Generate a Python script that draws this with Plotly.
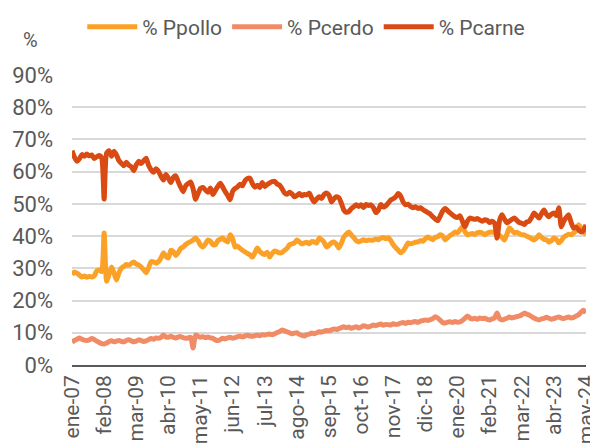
import plotly.graph_objects as go

MESES = ["ene", "feb", "mar", "abr", "may", "jun", "jul", "ago", "sep", "oct", "nov", "dic"]

# monthly periods ene-07 .. may-24
periodos = [f"{MESES[m]}-{y % 100:02d}" for y in range(2007, 2025) for m in range(12)][:209]

pct_pollo = [
    28.0, 28.9, 28.5, 27.9, 27.3, 27.6, 27.2, 27.5, 27.3, 27.7, 29.2, 29.5,
    29.0, 41.0, 26.0, 28.2, 30.4, 28.5, 26.4, 28.6, 30.1, 30.6, 31.2, 31.0,
    31.5, 32.0, 31.3, 31.0, 30.4, 29.6, 28.6, 30.2, 32.1, 32.0, 31.6, 32.1,
    33.2, 34.8, 33.7, 33.2, 35.6, 35.2, 34.0, 34.9, 36.2, 36.6, 37.4, 37.9,
    38.3, 38.8, 39.4, 38.6, 37.2, 36.6, 37.6, 38.8, 38.4, 37.4, 37.3, 38.6,
    39.0, 39.4, 38.6, 38.2, 40.4, 39.2, 36.6, 36.9, 36.2, 35.6, 35.1, 34.6,
    34.2, 33.5, 34.8, 36.3, 35.2, 34.6, 34.3, 35.0, 33.5, 34.6, 35.4, 35.1,
    34.8, 34.9, 35.6, 36.2, 37.3, 37.6, 37.9, 38.8, 38.2, 37.6, 37.9, 38.1,
    37.6, 38.3, 38.2, 37.8, 39.4, 38.9, 38.1, 36.6, 37.2, 37.9, 38.2, 37.5,
    36.3, 37.8, 39.7, 40.6, 41.3, 40.4, 39.6, 38.6, 38.2, 38.5, 38.9, 38.6,
    38.8, 38.7, 38.8, 39.1, 38.9, 39.4, 39.6, 39.2, 39.5, 38.6, 37.3, 36.4,
    35.6, 34.8, 35.4, 36.6, 37.9, 37.6, 37.8, 38.1, 38.2, 38.6, 38.4, 39.2,
    39.7, 39.3, 38.9, 39.6, 39.8, 40.4, 40.1, 38.8, 39.5, 40.2, 40.6, 41.3,
    41.0, 42.0, 42.9, 41.4, 40.4, 40.6, 40.8, 40.5, 41.0, 41.2, 41.0, 40.4,
    40.9, 41.2, 41.3, 41.1, 40.8, 40.2, 39.6, 38.8, 40.6, 42.5, 41.8, 41.0,
    41.2, 40.8, 40.4, 40.4, 40.0, 39.6, 39.2, 38.8, 39.4, 40.4, 39.6, 39.0,
    38.9, 38.2, 38.6, 39.4, 39.0, 37.9, 38.6, 39.7, 40.2, 40.6, 40.4, 41.0,
    41.6, 43.5, 42.6, 41.4, 40.4,
]

pct_cerdo = [
    7.1, 7.6, 8.0, 8.4, 8.0, 7.7, 7.6, 7.8, 8.2, 7.9, 7.4, 7.0,
    6.6, 6.5, 6.8, 7.3, 7.5, 7.2, 7.4, 7.6, 7.3, 7.2, 7.6, 7.8,
    7.5, 7.2, 7.4, 7.8, 7.6, 7.3, 7.5, 7.9, 8.2, 8.0, 8.4, 8.3,
    8.6, 9.3, 8.7, 8.6, 8.9, 8.6, 8.4, 8.7, 8.8, 8.5, 8.3, 8.4,
    8.6, 5.3, 9.3, 8.9, 8.6, 8.8, 8.5, 8.7, 8.4, 8.3, 7.8, 7.6,
    7.9, 8.3, 8.1, 8.4, 8.6, 8.3, 8.5, 8.8, 8.9, 8.7, 9.0, 9.2,
    9.0, 8.9, 9.1, 9.3, 9.1, 9.4, 9.3, 9.5, 9.6, 9.4, 9.7, 10.1,
    10.4, 10.9, 10.6, 10.3, 10.0, 9.7, 9.9, 10.0, 9.5, 9.2, 9.0, 9.4,
    9.6, 9.9, 9.7, 10.0, 10.3, 10.2, 10.5, 10.7, 10.6, 10.9, 11.2, 11.0,
    11.3, 11.6, 11.9, 11.6, 11.8, 11.4, 11.6, 11.9, 11.5, 11.8, 12.2, 12.0,
    11.8, 12.1, 12.4, 12.2, 12.5, 12.7, 12.3, 12.6, 12.5, 12.4, 12.8, 12.6,
    12.7, 13.0, 13.2, 12.9, 13.3, 13.1, 13.4, 13.5, 13.2, 13.6, 13.8, 14.0,
    13.8, 14.1, 14.4, 15.0, 14.6, 13.9, 13.2, 13.0, 13.3, 13.4, 13.2, 13.5,
    13.3, 13.4, 13.8, 14.5, 15.2, 14.6, 14.3, 14.5, 14.2, 14.6, 14.4, 14.5,
    14.2, 14.0, 14.3, 14.6, 16.1, 14.4, 14.0, 14.2, 14.5, 14.9, 14.6, 14.8,
    15.0, 15.2, 15.6, 16.1, 15.8, 15.5, 15.0, 14.6, 14.2, 14.0, 14.3, 14.5,
    14.8, 14.5, 14.2, 14.4, 14.7, 14.9, 14.6, 14.4, 14.7, 14.9, 14.6, 14.8,
    15.2, 15.6, 16.4, 17.0, 16.1,
]

pct_carne = [
    66.5, 64.5, 63.2, 64.0, 65.3, 64.8, 65.5, 64.9, 65.2, 64.1, 64.6, 65.0,
    64.3, 51.5, 65.8, 66.5, 64.8, 66.3, 65.2, 63.4, 62.6, 61.8, 62.9, 62.0,
    61.5, 60.3, 62.1, 63.2, 62.5, 63.4, 64.2, 62.0, 60.6, 59.8, 60.9, 60.1,
    58.6, 57.4, 59.1, 58.0, 56.6, 58.2, 58.7, 56.9, 55.2, 53.8, 55.6, 56.3,
    56.8, 54.7, 51.4, 53.2, 54.8, 55.1, 54.3, 53.6, 54.9, 52.9, 54.2, 55.4,
    56.4, 55.2, 53.8, 52.6, 51.3, 53.9, 54.8, 55.3, 56.1, 55.6, 57.2, 57.9,
    58.0, 56.3, 55.2, 55.8, 55.1, 56.6, 55.4, 56.0, 56.5, 56.9, 57.0, 56.2,
    55.8, 54.7, 53.4, 53.0, 53.6, 53.1, 52.2, 52.6, 53.2, 52.5, 52.9, 52.8,
    53.3, 51.8, 50.6, 51.5, 52.2, 51.7, 52.9, 53.4, 52.7, 50.6, 51.6, 52.2,
    51.9, 50.2, 48.1, 47.4, 47.6, 48.5, 49.1, 49.7, 49.2, 49.7, 48.9, 49.8,
    49.5, 49.7, 48.8, 47.3, 48.1, 49.8, 49.0, 49.4, 50.3, 51.2, 51.6, 52.2,
    53.2, 52.4, 50.6, 49.7, 49.9, 49.2, 48.8, 49.1, 48.6, 48.8, 48.2, 47.8,
    47.3, 46.8, 46.0, 45.3, 44.8, 46.2, 47.8, 48.6, 47.9, 47.2, 46.6, 46.0,
    45.8, 46.3, 44.6, 42.9, 44.6, 45.6, 45.4, 45.2, 45.5, 45.0, 44.6, 45.1,
    44.9, 44.2, 44.6, 44.0, 39.4, 44.8, 46.6, 45.3, 44.1, 44.6, 45.2, 45.6,
    44.9, 44.2, 44.0, 43.6, 44.4, 44.6, 45.8, 47.2, 46.4, 45.6, 47.0, 48.1,
    46.8, 46.0, 46.8, 47.2, 46.4, 48.8, 42.9, 44.6, 45.8, 46.6, 44.2, 42.5,
    42.8, 42.0, 41.3, 41.8, 43.5,
]

series = [
    ("% Ppollo", pct_pollo, "#FCA128"),
    ("% Pcerdo", pct_cerdo, "#F18B66"),
    ("% Pcarne", pct_carne, "#D94B12"),
]

GRIS = "#595959"

fig = go.Figure()
for nombre, valores, color in series:
    fig.add_trace(go.Scatter(
        x=list(range(len(valores))), y=valores, name=nombre, mode="lines",
        line=dict(color=color, width=5, shape="spline", smoothing=0.6),
    ))

ticks = list(range(0, len(periodos), 13))
fig.update_xaxes(
    range=[0, len(periodos) - 1], tickvals=ticks, ticktext=[periodos[i] for i in ticks],
    tickangle=-90, showgrid=False, showline=True, linecolor=GRIS, linewidth=1.5,
    ticks="", zeroline=False, tickfont=dict(size=21, color=GRIS),
    ticklabeloverflow="allow", automargin=False,
)
fig.update_yaxes(
    range=[0, 90], dtick=10, ticksuffix="%", showgrid=True, gridcolor="#D9D9D9",
    gridwidth=1.5, zeroline=False, ticks="", ticklabelstandoff=18,
    tickfont=dict(size=22, color=GRIS), automargin=False,
)
fig.add_annotation(
    text="%", xref="paper", yref="paper", x=-0.081, y=1.12, showarrow=False,
    xanchor="center", yanchor="middle", font=dict(size=20, color=GRIS),
)
# page body adds an 8px offset, so the figure is sized to the visible area
fig.update_layout(
    width=590, height=440, margin=dict(l=64, r=12, t=67, b=83, autoexpand=False),
    plot_bgcolor="white", paper_bgcolor="white",
    font=dict(family="Roboto", color=GRIS),
    legend=dict(orientation="h", x=0.02, xanchor="left", y=1.165, yanchor="middle",
                font=dict(size=21, color=GRIS), itemwidth=50, traceorder="normal"),
)
fig.write_html("out.html")
